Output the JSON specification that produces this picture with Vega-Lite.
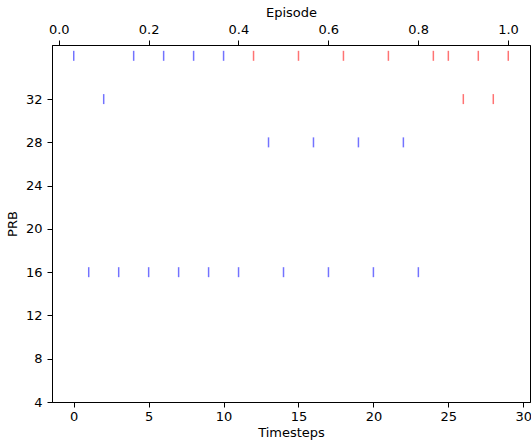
{
  "$schema": "https://vega.github.io/schema/vega-lite/v6.json",
  "width": 478,
  "height": 357,
  "padding": {"left": 52, "top": 45, "right": 1, "bottom": 43},
  "autosize": {"type": "none"},
  "background": "white",
  "config": {
    "view": {"stroke": "black", "strokeWidth": 1},
    "font": "DejaVu Sans",
    "axis": {
      "grid": false,
      "domainColor": "black",
      "tickColor": "black",
      "labelColor": "black",
      "titleColor": "black",
      "labelFont": "DejaVu Sans",
      "titleFont": "DejaVu Sans",
      "labelFontSize": 13,
      "titleFontSize": 13,
      "titleFontWeight": "normal",
      "tickSize": 5,
      "labelPadding": 4
    }
  },
  "layer": [
    {
      "data": {
        "values": [
          {"t": 0, "prb": 36, "c": "blue"},
          {"t": 1, "prb": 16, "c": "blue"},
          {"t": 2, "prb": 32, "c": "blue"},
          {"t": 3, "prb": 16, "c": "blue"},
          {"t": 4, "prb": 36, "c": "blue"},
          {"t": 5, "prb": 16, "c": "blue"},
          {"t": 6, "prb": 36, "c": "blue"},
          {"t": 7, "prb": 16, "c": "blue"},
          {"t": 8, "prb": 36, "c": "blue"},
          {"t": 9, "prb": 16, "c": "blue"},
          {"t": 10, "prb": 36, "c": "blue"},
          {"t": 11, "prb": 16, "c": "blue"},
          {"t": 12, "prb": 36, "c": "red"},
          {"t": 13, "prb": 28, "c": "blue"},
          {"t": 14, "prb": 16, "c": "blue"},
          {"t": 15, "prb": 36, "c": "red"},
          {"t": 16, "prb": 28, "c": "blue"},
          {"t": 17, "prb": 16, "c": "blue"},
          {"t": 18, "prb": 36, "c": "red"},
          {"t": 19, "prb": 28, "c": "blue"},
          {"t": 20, "prb": 16, "c": "blue"},
          {"t": 21, "prb": 36, "c": "red"},
          {"t": 22, "prb": 28, "c": "blue"},
          {"t": 23, "prb": 16, "c": "blue"},
          {"t": 24, "prb": 36, "c": "red"},
          {"t": 25, "prb": 36, "c": "red"},
          {"t": 26, "prb": 32, "c": "red"},
          {"t": 27, "prb": 36, "c": "red"},
          {"t": 28, "prb": 32, "c": "red"},
          {"t": 29, "prb": 36, "c": "red"}
        ]
      },
      "mark": {"type": "tick", "orient": "vertical", "size": 10, "thickness": 1.5, "opacity": 0.55},
      "encoding": {
        "x": {
          "field": "t", "type": "quantitative",
          "scale": {"domain": [-1.45, 30.45], "nice": false, "zero": false},
          "axis": {"title": "Timesteps", "values": [0, 5, 10, 15, 20, 25, 30], "titlePadding": 3, "labelPadding": 3, "orient": "bottom"}
        },
        "y": {
          "field": "prb", "type": "quantitative",
          "scale": {"domain": [4, 37], "nice": false, "zero": false},
          "axis": {"title": "PRB", "values": [4, 8, 12, 16, 20, 24, 28, 32], "titlePadding": 6, "labelPadding": 5}
        },
        "color": {"field": "c", "type": "nominal", "scale": {"domain": ["blue", "red"], "range": ["#0000ff", "#ff0000"]}, "legend": null}
      }
    },
    {
      "data": {"values": [{"episode": 0}, {"episode": 1}]},
      "mark": {"type": "point", "opacity": 0},
      "encoding": {
        "x": {
          "field": "episode", "type": "quantitative",
          "scale": {"domain": [-0.015, 1.049], "nice": false, "zero": false},
          "axis": {"title": "Episode", "orient": "top", "values": [0, 0.2, 0.4, 0.6, 0.8, 1.0], "format": ".1f", "titlePadding": 4, "labelPadding": 4}
        }
      }
    }
  ],
  "resolve": {"scale": {"x": "independent"}, "axis": {"x": "independent"}}
}
